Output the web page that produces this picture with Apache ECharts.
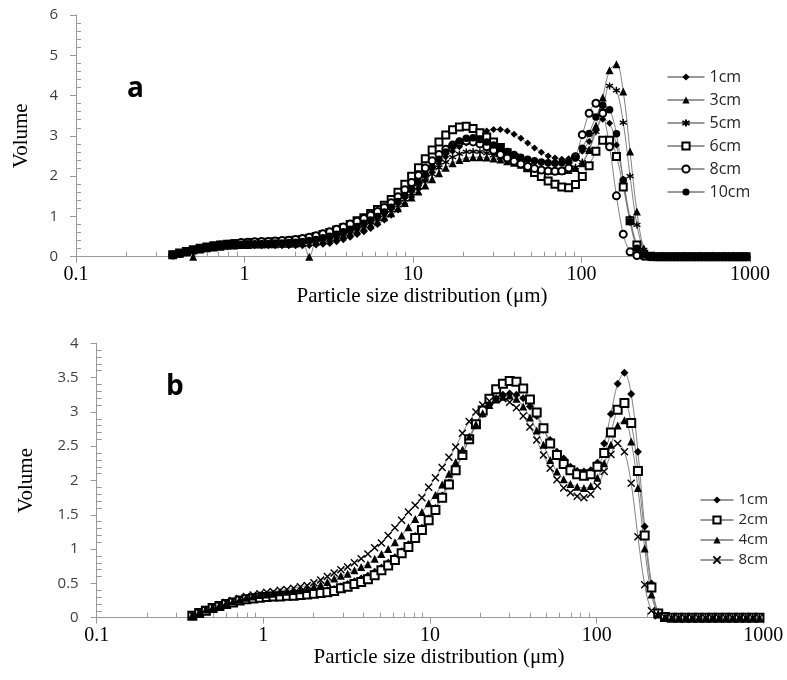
<!DOCTYPE html>
<html>
<head>
<meta charset="utf-8">
<title>Particle size distribution</title>
<script src="https://cdn.jsdelivr.net/npm/echarts@6/dist/echarts.min.js"></script>
<style>
  html, body { margin: 0; padding: 0; background: #fff; }
  #chart { width: 787px; height: 680px; }
</style>
</head>
<body>
<div id="chart"></div>
<script>
// size classes (µm), shared by both panels
const sizes = [0.375, 0.412, 0.452, 0.496, 0.545, 0.598, 0.657, 0.721, 0.791, 0.869,
  0.953, 1.047, 1.149, 1.261, 1.385, 1.520, 1.669, 1.832, 2.010, 2.207,
  2.423, 2.660, 2.920, 3.205, 3.519, 3.863, 4.240, 4.655, 5.110, 5.610,
  6.158, 6.760, 7.421, 8.147, 8.943, 9.817, 10.78, 11.83, 12.99, 14.26,
  15.65, 17.18, 18.86, 20.71, 22.73, 24.95, 27.39, 30.07, 33.01, 36.24,
  39.78, 43.67, 47.94, 52.62, 57.77, 63.41, 69.61, 76.42, 83.89, 92.09,
  101.1, 111.0, 121.8, 133.7, 146.8, 161.2, 176.9, 194.2, 213.2, 234.1,
  256.9, 282.1, 309.6, 339.9, 373.1, 409.6, 449.7, 493.6, 541.9, 594.9,
  653.0, 716.9, 786.9, 863.9, 948.3]

// panel a
const a1cm = [0.04, 0.08, 0.11, 0.15, 0.18, 0.20, 0.22, 0.24, 0.25, 0.26,
  0.27, 0.27, 0.27, 0.27, 0.27, 0.27, 0.27, 0.27, 0.27, 0.27,
  0.28, 0.29, 0.31, 0.33, 0.37, 0.42, 0.48, 0.55, 0.62, 0.70,
  0.80, 0.91, 1.03, 1.16, 1.31, 1.48, 1.68, 1.89, 2.10, 2.31,
  2.48, 2.62, 2.73, 2.82, 2.94, 3.04, 3.12, 3.16, 3.16, 3.12,
  3.04, 2.94, 2.82, 2.70, 2.59, 2.50, 2.45, 2.42, 2.43, 2.50,
  2.62, 2.86, 3.13, 3.41, 3.31, 2.77, 1.92, 0.95, 0.30, 0.05,
  0.01, 0, 0, 0, 0, 0, 0, 0, 0, 0,
  0, 0, 0, 0, 0]
const a3cm = [0.04, 0.08, 0.11, 0, 0.18, 0.21, 0.23, 0.25, 0.27, 0.28,
  0.29, 0.29, 0.30, 0.30, 0.31, 0.31, 0.32, 0.32, 0.33, 0.34,
  0, 0.38, 0.41, 0.45, 0.49, 0.54, 0.59, 0.65, 0.72, 0.80,
  0.88, 0.98, 1.08, 1.20, 1.33, 1.47, 1.62, 1.77, 1.92, 2.07,
  2.21, 2.32, 2.40, 2.45, 2.47, 2.47, 2.46, 2.44, 2.41, 2.37,
  2.33, 2.28, 2.23, 2.19, 2.16, 2.14, 2.13, 2.13, 2.15, 2.20,
  2.32, 2.65, 3.25, 3.95, 4.63, 4.78, 4.10, 2.61, 1.12, 0.21,
  0.03, 0, 0, 0, 0, 0, 0, 0, 0, 0,
  0, 0, 0, 0, 0]
const a5cm = [0.04, 0.08, 0.12, 0.16, 0.19, 0.22, 0.24, 0.26, 0.28, 0.29,
  0.30, 0.30, 0.31, 0.31, 0.32, 0.32, 0.33, 0.34, 0.35, 0.36,
  0.38, 0.41, 0.44, 0.48, 0.52, 0.57, 0.63, 0.70, 0.77, 0.85,
  0.94, 1.04, 1.15, 1.28, 1.42, 1.57, 1.73, 1.89, 2.05, 2.21,
  2.35, 2.47, 2.55, 2.60, 2.61, 2.60, 2.57, 2.52, 2.46, 2.40,
  2.34, 2.29, 2.24, 2.20, 2.17, 2.15, 2.14, 2.15, 2.17, 2.22,
  2.35, 2.65, 3.10, 3.62, 4.24, 4.13, 3.33, 2.00, 0.79, 0.17,
  0.02, 0, 0, 0, 0, 0, 0, 0, 0, 0,
  0, 0, 0, 0, 0]
const a6cm = [0.05, 0.09, 0.13, 0.17, 0.21, 0.24, 0.27, 0.29, 0.31, 0.32,
  0.33, 0.34, 0.35, 0.35, 0.36, 0.37, 0.38, 0.39, 0.41, 0.43,
  0.46, 0.50, 0.55, 0.60, 0.66, 0.72, 0.80, 0.89, 0.97, 1.07,
  1.17, 1.28, 1.42, 1.60, 1.80, 2.00, 2.21, 2.43, 2.65, 2.85,
  3.02, 3.15, 3.22, 3.24, 3.18, 3.08, 2.97, 2.85, 2.71, 2.58,
  2.46, 2.33, 2.21, 2.09, 1.99, 1.88, 1.80, 1.73, 1.71, 1.79,
  1.99, 2.26, 2.62, 2.89, 2.89, 2.49, 1.73, 0.89, 0.29, 0.06,
  0.01, 0, 0, 0, 0, 0, 0, 0, 0, 0,
  0, 0, 0, 0, 0]
const a8cm = [0.04, 0.08, 0.12, 0.16, 0.20, 0.23, 0.26, 0.29, 0.31, 0.33,
  0.35, 0.36, 0.37, 0.38, 0.38, 0.39, 0.40, 0.41, 0.43, 0.45,
  0.48, 0.52, 0.57, 0.62, 0.68, 0.74, 0.81, 0.88, 0.95, 1.03,
  1.12, 1.22, 1.34, 1.49, 1.66, 1.84, 2.02, 2.20, 2.38, 2.54,
  2.67, 2.77, 2.84, 2.87, 2.85, 2.80, 2.73, 2.64, 2.54, 2.45,
  2.37, 2.30, 2.24, 2.19, 2.15, 2.13, 2.12, 2.13, 2.20, 2.48,
  3.03, 3.56, 3.81, 3.56, 2.73, 1.51, 0.56, 0.12, 0.03, 0.01,
  0, 0, 0, 0, 0, 0, 0, 0, 0, 0,
  0, 0, 0, 0, 0]
const a10cm = [0.05, 0.09, 0.13, 0.17, 0.20, 0.23, 0.25, 0.27, 0.29, 0.30,
  0.31, 0.32, 0.32, 0.33, 0.33, 0.34, 0.34, 0.35, 0.36, 0.38,
  0.40, 0.43, 0.47, 0.51, 0.56, 0.62, 0.68, 0.75, 0.83, 0.91,
  1.00, 1.11, 1.23, 1.37, 1.52, 1.68, 1.85, 2.03, 2.22, 2.42,
  2.60, 2.75, 2.87, 2.94, 2.95, 2.91, 2.85, 2.77, 2.69, 2.61,
  2.54, 2.47, 2.42, 2.38, 2.35, 2.33, 2.32, 2.33, 2.36, 2.45,
  2.69, 3.06, 3.47, 3.76, 3.65, 3.05, 1.90, 0.87, 0.21, 0.04,
  0.01, 0, 0, 0, 0, 0, 0, 0, 0, 0,
  0, 0, 0, 0, 0]

// panel b
const b1cm = [0.04, 0.08, 0.12, 0.15, 0.18, 0.21, 0.23, 0.25, 0.27, 0.29,
  0.30, 0.31, 0.32, 0.33, 0.33, 0.34, 0.35, 0.36, 0.37, 0.38,
  0.40, 0.42, 0.46, 0.49, 0.53, 0.57, 0.61, 0.67, 0.73, 0.80,
  0.88, 0.97, 1.07, 1.19, 1.31, 1.45, 1.60, 1.78, 1.97, 2.17,
  2.39, 2.60, 2.80, 2.97, 3.10, 3.20, 3.25, 3.27, 3.25, 3.20,
  3.08, 2.94, 2.74, 2.59, 2.42, 2.32, 2.20, 2.14, 2.13, 2.15,
  2.26, 2.54, 2.97, 3.41, 3.57, 3.26, 2.42, 1.33, 0.50, 0.08,
  0.01, 0, 0, 0, 0, 0, 0, 0, 0, 0,
  0, 0, 0, 0, 0]
const b2cm = [0.03, 0.07, 0.10, 0.14, 0.17, 0.20, 0.22, 0.25, 0.27, 0.28,
  0.29, 0.30, 0.31, 0.31, 0.32, 0.32, 0.33, 0.34, 0.35, 0.36,
  0.37, 0.39, 0.43, 0.45, 0.49, 0.52, 0.56, 0.62, 0.69, 0.76,
  0.84, 0.94, 1.03, 1.16, 1.28, 1.42, 1.57, 1.75, 1.94, 2.15,
  2.37, 2.60, 2.82, 3.02, 3.19, 3.33, 3.41, 3.45, 3.44, 3.34,
  3.18, 2.99, 2.76, 2.54, 2.37, 2.24, 2.15, 2.09, 2.07, 2.09,
  2.20, 2.40, 2.70, 3.03, 3.13, 2.84, 2.14, 1.20, 0.44, 0.06,
  0.01, 0, 0, 0, 0, 0, 0, 0, 0, 0,
  0, 0, 0, 0, 0]
const b4cm = [0.04, 0.08, 0.12, 0.15, 0.18, 0.21, 0.24, 0.26, 0.29, 0.31,
  0.33, 0.34, 0.35, 0.37, 0.38, 0.39, 0.40, 0.42, 0.45, 0.48,
  0.52, 0.57, 0.61, 0.64, 0.69, 0.74, 0.78, 0.86, 0.93, 1.00,
  1.10, 1.20, 1.32, 1.44, 1.54, 1.67, 1.79, 1.94, 2.10, 2.27,
  2.45, 2.64, 2.82, 2.98, 3.10, 3.18, 3.22, 3.24, 3.19, 3.08,
  2.92, 2.73, 2.52, 2.30, 2.13, 2.02, 1.95, 1.91, 1.89, 1.92,
  2.04, 2.25, 2.52, 2.80, 2.88, 2.57, 1.89, 1.01, 0.34, 0.06,
  0.01, 0, 0, 0, 0, 0, 0, 0, 0, 0,
  0, 0, 0, 0, 0]
const b8cm = [0.04, 0.08, 0.12, 0.16, 0.19, 0.22, 0.25, 0.28, 0.31, 0.33,
  0.35, 0.37, 0.38, 0.40, 0.41, 0.43, 0.45, 0.47, 0.51, 0.55,
  0.60, 0.65, 0.70, 0.74, 0.80, 0.86, 0.93, 1.02, 1.09, 1.20,
  1.31, 1.42, 1.54, 1.64, 1.75, 1.90, 2.04, 2.19, 2.34, 2.49,
  2.69, 2.86, 3.00, 3.10, 3.16, 3.19, 3.19, 3.14, 3.06, 2.94,
  2.78, 2.59, 2.37, 2.18, 2.01, 1.89, 1.82, 1.77, 1.75, 1.80,
  1.92, 2.13, 2.38, 2.54, 2.42, 1.96, 1.18, 0.48, 0.10, 0.03,
  0.01, 0, 0, 0, 0, 0, 0, 0, 0, 0,
  0, 0, 0, 0, 0]

// minor ticks of the log axes (2..9 in every decade)
const minorTicksX = [0.2, 0.3, 0.4, 0.5, 0.6, 0.7, 0.8, 0.9,
  2, 3, 4, 5, 6, 7, 8, 9, 20, 30, 40, 50, 60, 70, 80, 90,
  200, 300, 400, 500, 600, 700, 800, 900]

const axisGray = '#999999'
const lineGray = '#737373'
const serif = 'Liberation Serif'
const sans = 'Open Sans'

// symbol paths for markers that echarts does not have
const asterisk = 'path://M5,0L5,10M0.7,2.5L9.3,7.5M0.7,7.5L9.3,2.5'
const cross = 'path://M0,0L10,10M10,0L0,10'

const pts = ys => sizes.map((x, i) => [x, ys[i]])

function mkSeries(name, ys, idx, symbol, size, strokeOnly) {
  return {
    name: name,
    type: 'line',
    xAxisIndex: idx * 2,
    yAxisIndex: idx * 2,
    data: pts(ys),
    smooth: 0.35,
    symbol: symbol,
    symbolSize: size,
    lineStyle: { color: lineGray, width: 0.9 },
    itemStyle: strokeOnly
      ? { color: '#000', borderColor: '#000', borderWidth: 1.4 }
      : { color: '#000', borderColor: '#000', borderWidth: symbol.indexOf('empty') === 0 ? 1.3 : 0 },
    emphasis: { disabled: true },
    animation: false
  }
}

function xAxes(gi, nameGap) {
  return [{
    type: 'log', logBase: 10, gridIndex: gi, min: 0.1, max: 1000,
    position: 'bottom',
    axisLine: { onZero: false, lineStyle: { color: axisGray, width: 1 } },
    axisTick: { show: true, inside: false, length: 6, lineStyle: { color: axisGray } },
    axisLabel: {
      color: '#000', fontFamily: serif, fontSize: 20, margin: 8,
      formatter: v => String(+(+v).toPrecision(6))
    },
    splitLine: { show: false },
    name: 'Particle size distribution (μm)',
    nameLocation: 'middle', nameGap: nameGap,
    nameTextStyle: { color: '#000', fontFamily: serif, fontSize: 21, padding: [0, 0, 0, 18] }
  }, {
    // second log axis, only for the small inner ticks
    type: 'log', logBase: 10, gridIndex: gi, min: 0.1, max: 1000,
    position: 'bottom',
    axisLine: { show: false, onZero: false },
    axisTick: { show: true, inside: true, length: 5, customValues: minorTicksX, lineStyle: { color: axisGray } },
    axisLabel: { show: false },
    splitLine: { show: false }
  }]
}

function yAxes(gi, max, interval, nameGap, margin) {
  return [{
    type: 'value', gridIndex: gi, min: 0, max: max, interval: interval,
    position: 'left',
    axisLine: { show: true, onZero: false, lineStyle: { color: axisGray, width: 1 } },
    axisTick: { show: true, inside: false, length: 6, lineStyle: { color: axisGray } },
    axisLabel: { color: '#404040', fontFamily: sans, fontSize: 15, margin: margin },
    splitLine: { show: false },
    name: 'Volume', nameLocation: 'middle', nameGap: nameGap,
    nameTextStyle: { color: '#000', fontFamily: serif, fontSize: 21 }
  }, {
    type: 'value', gridIndex: gi, min: 0, max: max, interval: interval,
    position: 'left',
    axisLine: { show: false, onZero: false },
    axisTick: { show: false, inside: true },
    minorTick: { show: true, splitNumber: 5, length: 5, lineStyle: { color: axisGray } },
    axisLabel: { show: false },
    splitLine: { show: false }
  }]
}

const chart = echarts.init(document.getElementById('chart'), null, { renderer: 'canvas' })

const option = {
  backgroundColor: '#fff',
  animation: false,
  grid: [
    { left: 76, top: 15, width: 674, height: 241.7, outerBoundsMode: 'none', containLabel: false },
    { left: 96.7, top: 343.3, width: 666.6, height: 274.4, outerBoundsMode: 'none', containLabel: false }
  ],
  xAxis: [...xAxes(0, 26), ...xAxes(1, 28)],
  yAxis: [...yAxes(0, 6, 1, 44, 18), ...yAxes(1, 4, 0.5, 60, 18)],
  legend: [{
    orient: 'vertical', left: 667, top: 69, padding: 0,
    itemWidth: 37, itemHeight: 9, itemGap: 7,
    selectedMode: false,
    data: ['a:1cm', 'a:3cm', 'a:5cm', 'a:6cm', 'a:8cm', 'a:10cm'],
    formatter: n => n.split(':')[1],
    lineStyle: { color: '#333', width: 1 },
    textStyle: { color: '#262626', fontFamily: sans, fontSize: 16 }
  }, {
    orient: 'vertical', left: 700, top: 492.5, padding: 0,
    itemWidth: 33, itemHeight: 9, itemGap: 5,
    selectedMode: false,
    data: ['b:1cm', 'b:2cm', 'b:4cm', 'b:8cm'],
    formatter: n => n.split(':')[1],
    lineStyle: { color: '#333', width: 1 },
    textStyle: { color: '#262626', fontFamily: sans, fontSize: 15 }
  }],
  graphic: [
    { type: 'text', left: 127, top: 75, style: { text: 'a', font: 'bold 28px "Open Sans"', fill: '#000' } },
    { type: 'text', left: 166, top: 373, style: { text: 'b', font: 'bold 28px "Open Sans"', fill: '#000' } }
  ],
  series: [
    mkSeries('a:1cm', a1cm, 0, 'diamond', 7),
    mkSeries('a:3cm', a3cm, 0, 'triangle', 8),
    mkSeries('a:5cm', a5cm, 0, asterisk, 7, true),
    mkSeries('a:6cm', a6cm, 0, 'emptyRect', 7),
    mkSeries('a:8cm', a8cm, 0, 'emptyCircle', 7),
    mkSeries('a:10cm', a10cm, 0, 'circle', 7.5),
    mkSeries('b:1cm', b1cm, 1, 'diamond', 8),
    mkSeries('b:2cm', b2cm, 1, 'emptyRect', 8),
    mkSeries('b:4cm', b4cm, 1, 'triangle', 8),
    mkSeries('b:8cm', b8cm, 1, cross, 7, true)
  ]
}

chart.setOption(option)
</script>
</body>
</html>
